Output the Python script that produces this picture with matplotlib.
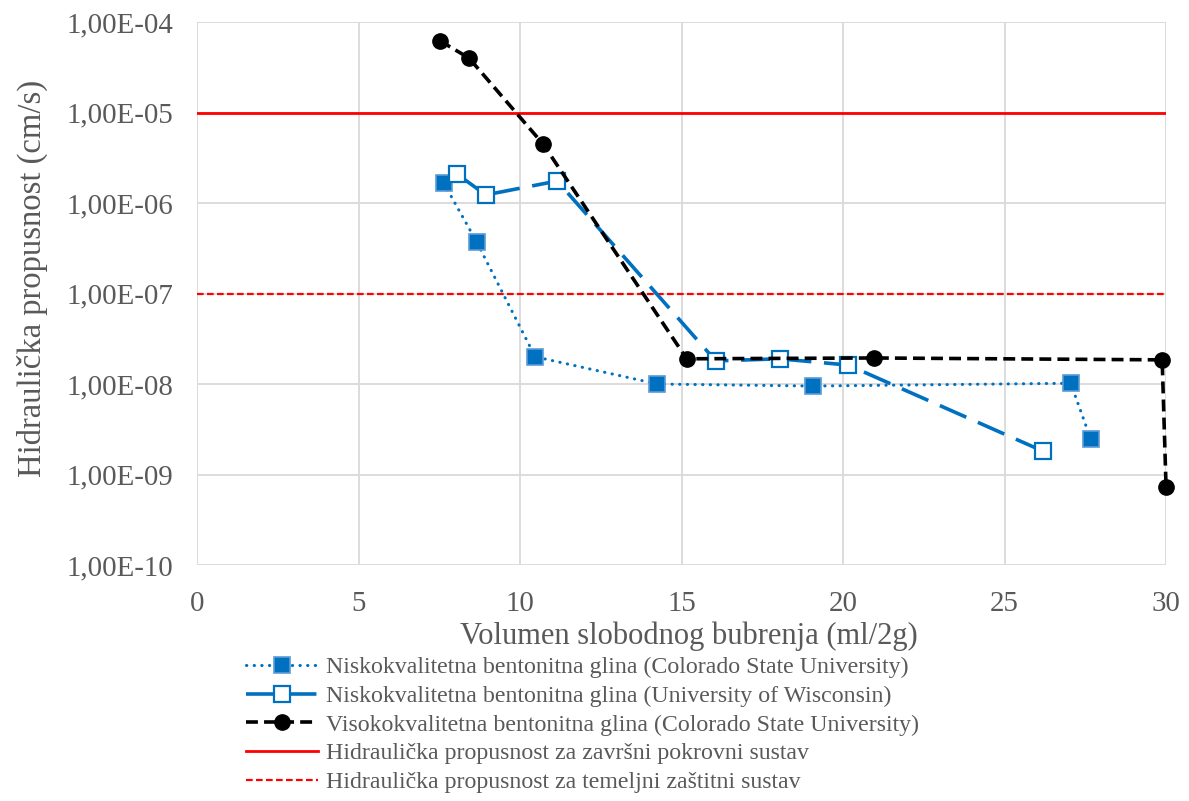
import matplotlib.pyplot as plt
from matplotlib.ticker import FixedLocator, NullLocator

plt.rcParams['font.family'] = ['Liberation Serif', 'DejaVu Serif']

# Niskokvalitetna bentonitna glina (Colorado State University)
csu_low_x = [7.64, 8.66, 10.47, 14.25, 19.07, 27.05, 27.67]
csu_low_y = [1.66e-6, 3.7e-7, 2.0e-8, 1.0e-8, 9.5e-9, 1.02e-8, 2.45e-9]

# Niskokvalitetna bentonitna glina (University of Wisconsin)
uw_low_x = [8.04, 8.94, 11.15, 16.06, 18.04, 20.16, 26.18]
uw_low_y = [2.1e-6, 1.23e-6, 1.75e-6, 1.8e-8, 1.9e-8, 1.62e-8, 1.82e-9]

# Visokokvalitetna bentonitna glina (Colorado State University)
csu_high_x = [7.52, 8.42, 10.71, 15.16, 20.96, 29.88, 30.0]
csu_high_y = [6.2e-5, 4.0e-5, 4.5e-6, 1.9e-8, 1.94e-8, 1.85e-8, 7.3e-10]

limit_cover = 1e-5
limit_base = 1e-7

labels = ['Niskokvalitetna bentonitna glina (Colorado State University)',
          'Niskokvalitetna bentonitna glina (University of Wisconsin)',
          'Visokokvalitetna bentonitna glina (Colorado State University)',
          'Hidraulička propusnost za završni pokrovni sustav',
          'Hidraulička propusnost za temeljni zaštitni sustav']

y_ticks = [1e-10, 1e-9, 1e-8, 1e-7, 1e-6, 1e-5, 1e-4]
y_ticklabels = ['1,00E-10', '1,00E-09', '1,00E-08', '1,00E-07',
                '1,00E-06', '1,00E-05', '1,00E-04']

blue = '#0070C0'
grey = '#595959'

fig = plt.figure(figsize=(11.89, 8.01), dpi=100)
ax = fig.add_axes([0.1657, 0.2946, 0.8150, 0.6779])

ax.axhline(limit_cover, color='#FF0000', lw=2.0, label=labels[3], zorder=2)
ax.axhline(limit_base, color='#FF0000', lw=1.6, ls=(0, (3, 1.5)), label=labels[4], zorder=2)

ax.plot(csu_low_x, csu_low_y, color=blue, lw=2.2, ls=(0, (0.1, 2.4)),
        dash_capstyle='round', marker='s', markersize=11,
        markerfacecolor=blue, markeredgecolor='#5B9BD5', markeredgewidth=1.2,
        label=labels[0], zorder=4, clip_on=False)
ax.plot(uw_low_x, uw_low_y, color=blue, lw=2.6, ls=(0, (8, 3.5)),
        marker='s', markersize=12, markerfacecolor='white',
        markeredgecolor=blue, markeredgewidth=1.6,
        label=labels[1], zorder=4, clip_on=False)
ax.plot(csu_high_x, csu_high_y, color='black', lw=2.6, ls=(0, (3.3, 1.7)),
        marker='o', markersize=11, markerfacecolor='black',
        markeredgecolor='black', label=labels[2], zorder=5, clip_on=False)

ax.set_yscale('log')
ax.set_ylim(1e-10, 1e-4)
ax.set_xlim(0, 30)
ax.set_xticks(range(0, 31, 5))
ax.yaxis.set_major_locator(FixedLocator(y_ticks))
ax.yaxis.set_minor_locator(NullLocator())
ax.set_yticklabels(y_ticklabels)

ax.grid(True, color='#D9D9D9', lw=1.3, zorder=0)
ax.set_axisbelow(True)
for s in ax.spines.values():
    s.set_visible(False)
ax.tick_params(length=0, labelsize=20.8, colors=grey)
ax.tick_params(axis='y', pad=17)
ax.tick_params(axis='x', pad=19)

ax.set_xlabel('Volumen slobodnog bubrenja (ml/2g)', fontsize=22, color=grey)
ax.set_ylabel('Hidraulička propusnost (cm/s)', fontsize=23.5, color=grey)
ax.xaxis.set_label_coords(0.508, -0.104)
ax.yaxis.set_label_coords(-0.154, 0.528)

handles, hl = ax.get_legend_handles_labels()
hmap = dict(zip(hl, handles))
leg = fig.legend([hmap[t] for t in labels], labels, loc='upper left',
                 bbox_to_anchor=(0.199, 0.192), frameon=False, fontsize=17.2,
                 handlelength=3.0, handletextpad=0.35, labelspacing=0.29,
                 borderaxespad=0)
for t in leg.get_texts():
    t.set_color(grey)

fig.savefig('out.png', dpi=100)
